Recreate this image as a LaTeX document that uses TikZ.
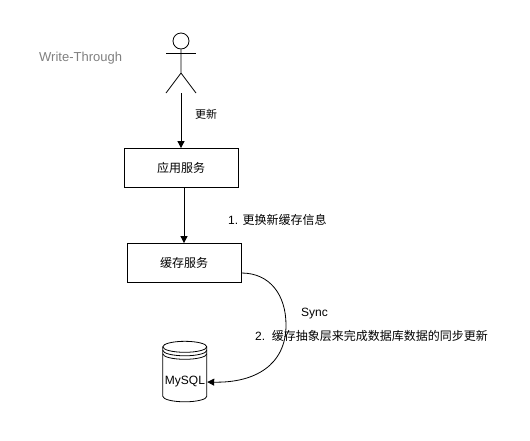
\documentclass[tikz,border=0pt]{standalone}
\usepackage{fontspec}
\setmainfont{Liberation Sans}
\newfontfamily\cjk{Noto Sans CJK SC}
\usetikzlibrary{arrows.meta}
\tikzset{
  svcbox/.style={draw,thick,minimum width=114pt,minimum height=39pt,font=\fontsize{12}{14}\selectfont\cjk},
  lbl/.style={font=\fontsize{12}{14}\selectfont,inner sep=0pt,anchor=west},
  conn/.style={thick,-{Triangle[length=7pt,width=7pt]}},
}
\begin{document}
\begin{tikzpicture}[x=1pt,y=-1pt]
  \useasboundingbox (0,0) rectangle (530,440);
  % actor
  \node[draw,thick,circle,minimum size=16pt,inner sep=0pt] (head) at (181,41) {};
  \coordinate (hip) at (181,73);
  \coordinate (foot) at (181,93);
  \draw[thick] (head.south) -- (hip) -- (166,93);
  \draw[thick] (hip) -- (196,93);
  \draw[thick] (166,53) -- (196,53);
  % boxes
  \node[svcbox] (app) at (181,168) {应用服务};
  \node[svcbox] (cache) at (184,263) {缓存服务};
  % database
  \node[minimum width=44pt,minimum height=40pt,inner sep=0pt,font=\fontsize{12}{14}\selectfont] (mysql) at (185,382) {MySQL};
  \draw[thick] (mysql.north west)++(0,-15) arc[x radius=22,y radius=5.5,start angle=180,end angle=360]
    -- ++(0,49.5) arc[x radius=22,y radius=5.5,start angle=0,end angle=180] -- cycle;
  \foreach \d in {-15,-11.5,-8}{
    \draw[thick] (mysql.north west)++(0,\d) arc[x radius=22,y radius=5.5,start angle=180,end angle=0];
  }
  % connectors
  \draw[conn] (foot) -- (app.north);
  \draw[conn] (app.south-|cache.north) -- (cache.north);
  \draw[conn] ([yshift=-10pt]cache.east) .. controls (270,273) and (286,295) .. (286,325)
    .. controls (286,365) and (255,383) .. (mysql.east);
  % labels
  \node[lbl,font=\fontsize{13}{15}\selectfont,text=black!50] (title) at (39,58) {Write-Through};
  \node[lbl,font=\fontsize{11}{13}\selectfont] (update) at (195,114) {\cjk 更新};
  \node[lbl] (step1) at (228,219.5) {1. {\cjk 更换新缓存信息}};
  \node[lbl] (sync) at (301,314) {Sync};
  \node[lbl] (step2) at (255,336) {2.\ \ {\cjk 缓存抽象层来完成数据库数据的同步更新}};
\end{tikzpicture}
\end{document}
